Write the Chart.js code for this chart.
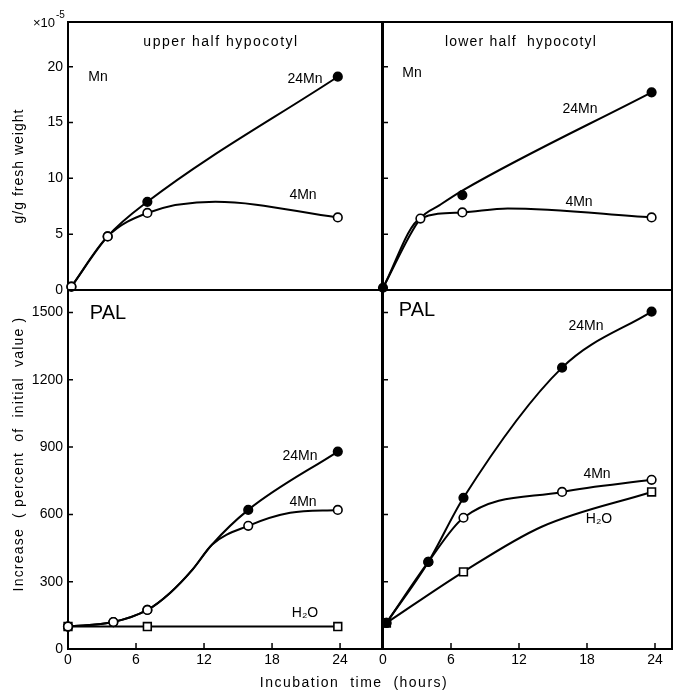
<!DOCTYPE html>
<html>
<head>
<meta charset="utf-8">
<script src="https://cdn.jsdelivr.net/npm/chart.js@4.4.1/dist/chart.umd.min.js"></script>
<style>
	html, body { margin: 0; padding: 0; background: #fff; }
	#wrap { position: relative; width: 675px; height: 691px; }
	#wrap canvas { position: absolute; left: 0; top: 0; }
</style>
</head>
<body>
<div id="wrap">
	<canvas id="tl" width="675" height="691"></canvas>
	<canvas id="tr" width="675" height="691"></canvas>
	<canvas id="bl" width="675" height="691"></canvas>
	<canvas id="br" width="675" height="691"></canvas>
</div>
<script>
// оси
const hourTicks = [0, 6, 12, 18, 24];
const mnTicks = [0, 5, 10, 15, 20];
const palTicks = [0, 300, 600, 900, 1200, 1500];

// Mn, g/g fresh weight (x10^-5), [hours, value]
const upperMn24 = [[0.3, 0.3], [3.5, 4.8], [7, 7.9], [23.8, 19.1]];
const upperMn4 = [[0.3, 0.3], [3.5, 4.8], [7, 6.9], [23.8, 6.5]];
const upperMn4Curve = [[13, 7.9]]; // точка на кривой без маркера

const lowerMn24 = [[0, 0.2], [23.7, 17.7]];
const lowerMn24Curve = [[3.3, 6.4], [5, 7.6], [7, 8.9]];
const lowerMn24Dot = [[7, 8.5]]; // точка лежит чуть ниже кривой
const lowerMn4 = [[3.3, 6.4], [7, 6.95], [23.7, 6.5]];
const lowerMn4Curve = [[0, 0.2], [11, 7.3]];

// PAL, percent of initial value
const upperPal24 = [[0, 100], [4, 120], [7, 174], [15.9, 620], [23.8, 880]];
const upperPal4 = [[0, 100], [4, 120], [7, 174], [15.9, 549], [23.8, 620]];
const upperPalCurve = [[9, 250], [11, 355], [12.7, 465]];
const upperPal4Curve = [[19.6, 607]];
const upperPalH2O = [[0, 100], [7, 100], [23.8, 100]];

const lowerPal24 = [[0.3, 116], [4, 388], [7.1, 674], [15.8, 1254], [23.7, 1504]];
const lowerPal4 = [[0.3, 116], [4, 388], [7.1, 585], [15.8, 700], [23.7, 754]];
const lowerPalH2O = [[0.3, 116], [7.1, 344], [23.7, 700]];
const lowerPalH2OCurve = [[14, 545]];

const W = 675;
const H = 691;
const font = { family: "'Liberation Sans', Arial, sans-serif", size: 14 };

function series(marks, curve) {
	const pts = marks.map((p) => ({ x: p[0], y: p[1], mark: true }));
	(curve || []).forEach((p) => pts.push({ x: p[0], y: p[1], mark: false }));
	return pts.sort((a, b) => a.x - b.x);
}

const markers = {
	filled: { style: "circle", fill: "#000", r: 4.3 },
	open: { style: "circle", fill: "#fff", r: 4.3 },
	square: { style: "rect", fill: "#fff", r: 5.5 },
};

function line(marks, curve, kind) {
	const m = markers[kind];
	return {
		data: series(marks, curve),
		borderColor: "#000",
		borderWidth: 2,
		cubicInterpolationMode: "monotone",
		pointStyle: m.style,
		pointBackgroundColor: m.fill,
		pointBorderColor: "#000",
		pointBorderWidth: 1.6,
		pointRadius: (c) => (c.raw && c.raw.mark ? m.r : 0),
		clip: false,
	};
}

function dots(marks, kind) {
	const d = line(marks, null, kind);
	d.showLine = false;
	return d;
}

// рамка и внутренние штрихи
const frame = {
	id: "frame",
	beforeDatasetsDraw(chart, args, opts) {
		const { ctx, chartArea: a, scales } = chart;
		ctx.save();
		ctx.strokeStyle = "#000";
		ctx.lineWidth = 2;
		ctx.strokeRect(a.left, a.top, a.right - a.left, a.bottom - a.top);
		ctx.lineWidth = 1.5;
		ctx.beginPath();
		if (opts.xMarks) {
			hourTicks.slice(1).forEach((v) => {
				const px = scales.x.getPixelForValue(v);
				ctx.moveTo(px, a.bottom);
				ctx.lineTo(px, a.bottom - 6);
			});
		}
		opts.yTicks.slice(1).forEach((v) => {
			const py = scales.y.getPixelForValue(v);
			ctx.moveTo(a.left, py);
			ctx.lineTo(a.left + 5, py);
		});
		ctx.stroke();
		ctx.restore();
	},
};

const notes = {
	id: "notes",
	afterDraw(chart, args, opts) {
		const ctx = chart.ctx;
		(opts.items || []).forEach((t) => {
			ctx.save();
			ctx.fillStyle = "#000";
			ctx.font = (t.size || 14) + "px " + font.family;
			ctx.letterSpacing = (t.spacing || 0) + "px";
			ctx.textAlign = t.align || "center";
			ctx.textBaseline = t.base || "middle";
			ctx.translate(t.x, t.y);
			if (t.rotate) ctx.rotate(t.rotate);
			ctx.fillText(t.text, 0, 0);
			ctx.restore();
		});
	},
};

function panel(id, area, xMax, yMax, yTicks, sets, showX, showY, items) {
	const [l, t, r, b] = area;
	new Chart(document.getElementById(id), {
		type: "line",
		data: { datasets: sets },
		options: {
			responsive: false,
			animation: false,
			events: [],
			layout: {
				autoPadding: false,
				padding: {
					left: showY ? 0 : l,
					top: t,
					right: W - r,
					bottom: showX ? 0 : H - b,
				},
			},
			scales: {
				x: {
					type: "linear",
					min: 0,
					max: xMax,
					afterBuildTicks: (s) => { s.ticks = hourTicks.map((v) => ({ value: v })); },
					afterFit: (s) => { s.height = showX ? H - b : 0; },
					grid: { display: false, drawTicks: false },
					border: { display: false },
					ticks: { display: showX, font: font, color: "#000", padding: 3, maxRotation: 0, autoSkip: false, callback: (v) => String(v) },
				},
				y: {
					type: "linear",
					min: 0,
					max: yMax,
					afterBuildTicks: (s) => { s.ticks = yTicks.map((v) => ({ value: v })); },
					afterFit: (s) => { s.width = showY ? l : 0; },
					grid: { display: false, drawTicks: false },
					border: { display: false },
					ticks: { display: showY, font: font, color: "#000", padding: 5, autoSkip: false, callback: (v) => String(v) },
				},
			},
			plugins: {
				legend: false,
				tooltip: { enabled: false },
				frame: { yTicks: yTicks, xMarks: showX },
				notes: { items: items },
			},
		},
		plugins: [frame, notes],
	});
}

const up = -Math.PI / 2;

panel("tl", [68, 22, 382, 290], 27.7, 24, mnTicks, [
	line(upperMn4, upperMn4Curve, "open"),
	line(upperMn24, null, "filled"),
], false, true, [
	{ text: "×10", x: 55, y: 27, size: 13, align: "right", base: "alphabetic" },
	{ text: "-5", x: 56, y: 18, size: 10, align: "left", base: "alphabetic" },
	{ text: "upper half hypocotyl", x: 221, y: 42, spacing: 1.5 },
	{ text: "Mn", x: 98, y: 77 },
	{ text: "24Mn", x: 305, y: 79 },
	{ text: "4Mn", x: 303, y: 195 },
	{ text: "g/g fresh weight", x: 19, y: 166, spacing: 1, rotate: up },
]);

panel("tr", [383, 22, 672, 290], 25.5, 24, mnTicks, [
	line(lowerMn4, lowerMn4Curve, "open"),
	dots(lowerMn24Dot, "filled"),
	line(lowerMn24, lowerMn24Curve, "filled"),
], false, false, [
	{ text: "lower half  hypocotyl", x: 521, y: 42, spacing: 1.2 },
	{ text: "Mn", x: 412, y: 73 },
	{ text: "24Mn", x: 580, y: 109 },
	{ text: "4Mn", x: 579, y: 202 },
]);

panel("bl", [68, 290, 382, 649], 27.7, 1600, palTicks, [
	line(upperPal4, upperPalCurve.concat(upperPal4Curve), "open"),
	line(upperPal24, upperPalCurve, "filled"),
	line(upperPalH2O, null, "square"),
], true, true, [
	{ text: "PAL", x: 108, y: 313, size: 20 },
	{ text: "24Mn", x: 300, y: 456 },
	{ text: "4Mn", x: 303, y: 502 },
	{ text: "H₂O", x: 305, y: 613 },
	{ text: "Increase  ( percent  of  initial  value )", x: 19, y: 454, spacing: 1.2, rotate: up },
	{ text: "Incubation  time  (hours)", x: 354, y: 683, spacing: 1.5 },
]);

panel("br", [383, 290, 672, 649], 25.5, 1600, palTicks, [
	line(lowerPal24, null, "filled"),
	line(lowerPal4, null, "open"),
	line(lowerPalH2O, lowerPalH2OCurve, "square"),
], true, false, [
	{ text: "PAL", x: 417, y: 310, size: 20 },
	{ text: "24Mn", x: 586, y: 326 },
	{ text: "4Mn", x: 597, y: 474 },
	{ text: "H₂O", x: 599, y: 519 },
]);
</script>
</body>
</html>
